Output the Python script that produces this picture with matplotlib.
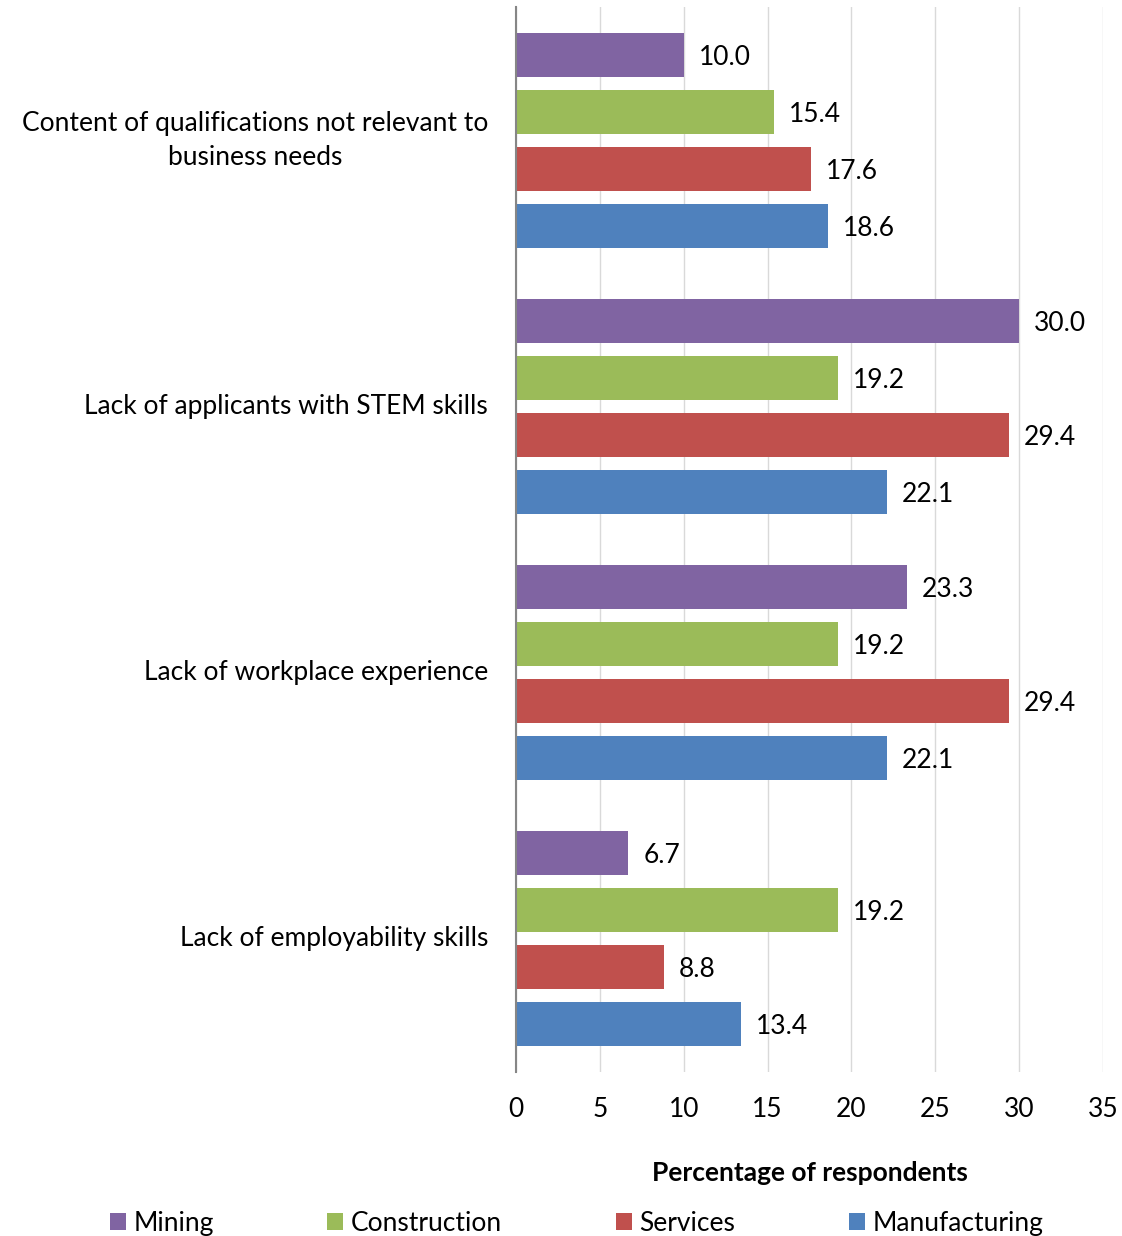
import numpy as np
import matplotlib.pyplot as plt
from matplotlib.patches import Patch

plt.rcParams['font.family'] = ['Lato', 'DejaVu Sans']

# Data
categories = ['Content of qualifications not relevant to\nbusiness needs',
              'Lack of applicants with STEM skills',
              'Lack of workplace experience',
              'Lack of employability skills']
series_names = ['Mining', 'Construction', 'Services', 'Manufacturing']
mining = [10.0, 30.0, 23.3, 6.7]
construction = [15.4, 19.2, 19.2, 19.2]
services = [17.6, 29.4, 29.4, 8.8]
manufacturing = [18.6, 22.1, 22.1, 13.4]
colors = ['#8064A2', '#9BBB59', '#C0504D', '#4F81BD']

fs = 19

fig = plt.figure(figsize=(11.22, 12.36), dpi=100)
ax = fig.add_axes([516/1122, 1 - 1072/1236, (1103-516)/1122, (1072-7)/1236])

y = np.arange(len(categories))
step = 57/266
h = 44/266
all_series = [mining, construction, services, manufacturing]
for i, (vals, col) in enumerate(zip(all_series, colors)):
    pos = y + (i - 1.5) * step
    bars = ax.barh(pos, vals, height=h, color=col, zorder=3)
    for b, v in zip(bars, vals):
        ax.text(v + 0.9, b.get_y() + b.get_height()/2, f'{v:.1f}',
                va='center_baseline', ha='left', fontsize=fs, color='black')

ax.set_ylim(len(categories) - 0.5, -0.5)
ax.set_xlim(0, 35)
ax.set_xticks(range(0, 36, 5))
ax.set_yticks(y)
ax.set_yticklabels(categories, fontsize=fs, multialignment='center',
                   linespacing=1.45, va='center')
ax.tick_params(axis='y', length=0, pad=20)
ax.tick_params(axis='x', length=0, labelsize=fs, pad=18)
ax.grid(axis='x', color='#D9D9D9', linewidth=1, zorder=0)
for s in ['top', 'right', 'bottom']:
    ax.spines[s].set_visible(False)
ax.spines['left'].set_color('#868686')
ax.spines['left'].set_linewidth(1.5)
ax.spines['left'].set_zorder(4)

ax.set_xlabel('Percentage of respondents', fontsize=fs, fontweight='bold', labelpad=28)

handles = [Patch(facecolor=c, label=n) for c, n in zip(colors, series_names)]
fig.legend(handles=handles, loc='lower center', ncol=4, frameon=False,
           fontsize=fs, bbox_to_anchor=(0.514, -0.019), handlelength=0.6,
           handleheight=0.6, handletextpad=0.3, columnspacing=4.3)

fig.savefig('out.png', dpi=100)
